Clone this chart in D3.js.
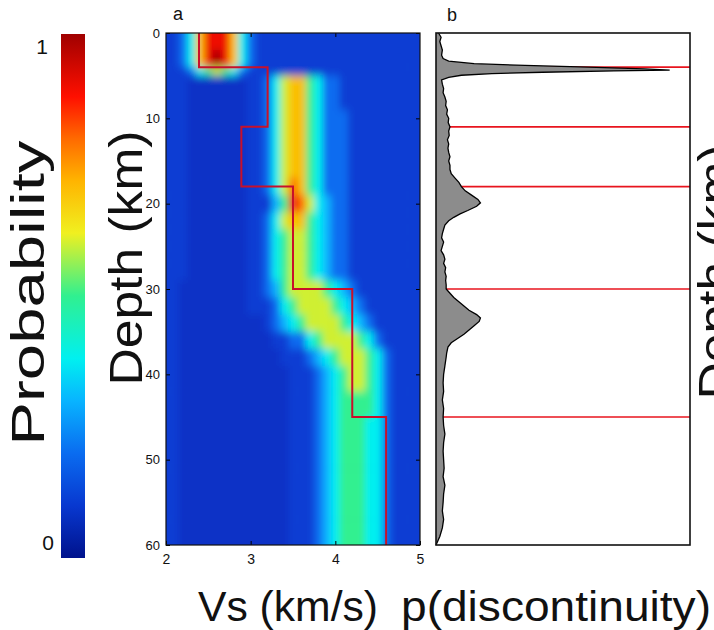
<!DOCTYPE html>
<html lang="en">
<head>
    <meta charset="UTF-8">
    <title>Vs posterior and discontinuity probability</title>
    <script src="https://d3js.org/d3.v7.min.js"></script>
    <style>
        body { margin: 0; background: #fff; }
        text { font-family: "Liberation Sans", Arial, sans-serif; fill: #111; }
    </style>
</head>
<body>
    <div id="chart"></div>
    <script>
        // Vs columns (km/s) of the probability grid
        const vsCols = [2.0, 2.1, 2.2, 2.3, 2.4, 2.5, 2.6, 2.7, 2.8, 2.9, 3.0, 3.1, 3.2, 3.3, 3.4, 3.5,
                        3.6, 3.7, 3.8, 3.9, 4.0, 4.1, 4.2, 4.3, 4.4, 4.5, 4.6, 4.7, 4.8, 4.9, 5.0];
        // depth of the top of each grid row (km); each row ends where the next starts, last at 60
        const rowTop = [0, 2, 4, 5, 7, 9, 11, 13, 15, 17, 19, 21, 23, 25, 27, 29, 31, 33, 35, 37, 39, 42, 45, 48, 51, 54, 57];
        // probability per cell, one char per Vs column: 0..9 and X (see levels)
        const probRows = [
            "1124799974" + "2111111111" + "11111111111",
            "112479X974" + "2111111111" + "11111111111",
            "1112456542" + "1111111111" + "11111111111",
            "1110000000" + "1124677542" + "21111111111",
            "1110000000" + "1124677542" + "21111111111",
            "1110000000" + "1124677542" + "22111111111",
            "1110000000" + "1124677542" + "22111111111",
            "1110000000" + "1124677542" + "22111111111",
            "1110000000" + "1124677542" + "22111111111",
            "1110000000" + "1124687542" + "22111111111",
            "1110000000" + "1113598643" + "22111111111",
            "1110000000" + "1124677543" + "22111111111",
            "1110000000" + "1124566543" + "22111111111",
            "1110000000" + "1124566543" + "22111111111",
            "1110000000" + "1124566543" + "22111111111",
            "1100000000" + "1123566665" + "43211111111",
            "1100000000" + "1112456666" + "54321111111",
            "1100000000" + "0012345666" + "65432111111",
            "1100000000" + "0001122456" + "66654211111",
            "1100000000" + "0000111234" + "56665421111",
            "1100000000" + "0000011123" + "45665421111",
            "1100000000" + "0000011123" + "45555421111",
            "1100000000" + "0000011123" + "45554421111",
            "1100000000" + "0000011123" + "45554421111",
            "1100000000" + "0000011123" + "45554421111",
            "1100000000" + "0000011123" + "45554421111",
            "1100000000" + "0000011123" + "45554421111"
        ];
        const levels = [0.085, 0.11, 0.2, 0.3, 0.38, 0.5, 0.6, 0.7, 0.8, 0.9, 1.0];

        // red layered model
        const layerTop = [0, 4, 11, 18, 30, 45];
        const layerVs = [2.39, 3.2, 2.89, 3.5, 4.2, 4.6];

        // p(discontinuity) profile
        const pDepth = [0, 0.5, 1, 1.5, 2, 2.6, 3, 3.3, 3.6, 3.8, 4, 4.2, 4.35, 4.45, 4.6, 4.75, 4.95, 5.2, 5.5,
                        6, 6.5, 7, 7.5, 8, 8.5, 9, 9.5, 10, 10.5, 11, 11.5, 12, 12.5, 13, 13.5, 14, 14.5, 15,
                        15.5, 16, 16.5, 17, 17.5, 18, 18.5, 19, 19.5, 19.9, 20.3, 20.8, 21.2, 21.6, 22, 22.5,
                        23, 23.5, 24, 24.5, 25, 25.5, 26, 26.5, 27, 27.5, 28, 28.5, 29, 29.5, 30, 30.5, 31,
                        31.5, 32, 32.5, 33, 33.4, 33.8, 34.3, 34.8, 35.3, 35.8, 36.3, 36.8, 37.5, 38, 39, 40,
                        41, 42, 43, 44, 45, 46, 47, 48, 49, 50, 51, 52, 53, 54, 55, 56, 57, 58, 59, 60];
        const pValue = [0.01, 0.02, 0.015, 0.02, 0.025, 0.022, 0.028, 0.05, 0.15, 0.35, 0.6, 0.82, 0.92, 0.7,
                        0.42, 0.22, 0.1, 0.05, 0.022, 0.025, 0.03, 0.028, 0.035, 0.04, 0.038, 0.045, 0.042,
                        0.05, 0.048, 0.055, 0.05, 0.052, 0.045, 0.05, 0.047, 0.05, 0.055, 0.05, 0.055, 0.055,
                        0.06, 0.075, 0.09, 0.1, 0.115, 0.14, 0.165, 0.175, 0.16, 0.125, 0.095, 0.07, 0.05,
                        0.035, 0.03, 0.025, 0.022, 0.03, 0.025, 0.02, 0.03, 0.035, 0.03, 0.038, 0.035, 0.04,
                        0.038, 0.04, 0.04, 0.055, 0.07, 0.09, 0.11, 0.13, 0.16, 0.175, 0.17, 0.15, 0.13, 0.11,
                        0.085, 0.06, 0.047, 0.042, 0.04, 0.035, 0.03, 0.028, 0.03, 0.025, 0.03, 0.028, 0.03,
                        0.035, 0.03, 0.028, 0.03, 0.032, 0.028, 0.035, 0.03, 0.028, 0.025, 0.03, 0.025, 0.015, 0];

        const colorStops = [0, 0.1, 0.2, 0.3, 0.38, 0.5, 0.62, 0.72, 0.8, 0.88, 1];
        const colorRange = ["#00128c", "#0838d0", "#0a6cf0", "#08b4ff", "#00f0f0", "#30f090",
                            "#f0f020", "#ffb400", "#ff6a00", "#ff1000", "#a00000"];

        const w = 714, h = 630;
        const color = d3.scaleLinear().domain(colorStops).range(colorRange);
        const xA = d3.scaleLinear().domain([2, 5]).range([166, 420]);
        const y = d3.scaleLinear().domain([0, 60]).range([33, 545]);
        const xB = d3.scaleLinear().domain([0, 1]).range([436, 690]);

        const svg = d3.select("#chart").append("svg")
            .attr("width", w).attr("height", h);
        svg.append("rect").attr("width", w).attr("height", h).attr("fill", "#fff");

        const defs = svg.append("defs");
        defs.append("clipPath").attr("id", "clipA")
            .append("rect")
            .attr("x", xA(2)).attr("y", y(0))
            .attr("width", xA(5) - xA(2)).attr("height", y(60) - y(0));
        defs.append("filter").attr("id", "soft")
            .attr("x", "-5%").attr("y", "-5%").attr("width", "110%").attr("height", "110%")
            .append("feGaussianBlur").attr("stdDeviation", "3.5 4.5");

        // colour bar
        const grad = defs.append("linearGradient").attr("id", "cbar")
            .attr("x1", 0).attr("y1", 1).attr("x2", 0).attr("y2", 0);
        grad.selectAll("stop").data(colorStops).enter().append("stop")
            .attr("offset", d => d)
            .attr("stop-color", d => color(d));
        const cb = d3.scaleLinear().domain([0, 1]).range([558, 34]);
        svg.append("rect")
            .attr("x", 61).attr("y", cb(1))
            .attr("width", 24).attr("height", cb(0) - cb(1))
            .attr("fill", "url(#cbar)");
        svg.append("text").attr("x", 48).attr("y", cb(1) + 20)
            .attr("text-anchor", "end").attr("font-size", 21).text("1");
        svg.append("text").attr("x", 54).attr("y", cb(0) - 8)
            .attr("text-anchor", "end").attr("font-size", 21).text("0");

        // panel a: heat map
        const cells = [];
        probRows.forEach((row, r) => {
            const top = rowTop[r];
            const bottom = r + 1 < rowTop.length ? rowTop[r + 1] : 60;
            vsCols.forEach((vs, c) => {
                const ch = row[c];
                cells.push({ vs: vs, top: top, bottom: bottom, p: levels[ch === "X" ? 10 : +ch] });
            });
        });
        const yTop = d => d.top === 0 ? y(d.top) - 12 : y(d.top);
        const yBot = d => d.bottom === 60 ? y(d.bottom) + 12 : y(d.bottom);
        const xL = d => d.vs === 2 ? xA(d.vs - 0.05) - 12 : xA(d.vs - 0.05);
        const xR = d => d.vs === 5 ? xA(d.vs + 0.05) + 12 : xA(d.vs + 0.05);
        const heat = svg.append("g").attr("clip-path", "url(#clipA)");
        heat.append("rect")
            .attr("x", xA(2)).attr("y", y(0))
            .attr("width", xA(5) - xA(2)).attr("height", y(60) - y(0))
            .attr("fill", color(0.1));
        heat.append("g").attr("filter", "url(#soft)")
            .selectAll("rect")
            .data(cells)
            .enter()
            .append("rect")
            .attr("x", xL)
            .attr("y", yTop)
            .attr("width", d => xR(d) - xL(d) + 0.5)
            .attr("height", d => yBot(d) - yTop(d) + 0.5)
            .attr("fill", d => color(d.p));

        const steps = [];
        layerTop.forEach((t, i) => {
            const b = i + 1 < layerTop.length ? layerTop[i + 1] : 60;
            steps.push([layerVs[i], t], [layerVs[i], b]);
        });
        heat.append("path")
            .attr("d", d3.line().x(d => xA(d[0])).y(d => y(d[1]))(steps))
            .attr("fill", "none")
            .attr("stroke", "#c8102a")
            .attr("stroke-width", 2);

        const depthTicks = [0, 10, 20, 30, 40, 50, 60];
        svg.append("g")
            .attr("transform", "translate(" + xA(2) + ",0)")
            .call(d3.axisLeft(y).tickValues(depthTicks).tickSize(-4).tickPadding(6))
            .call(g => g.select(".domain").remove())
            .call(g => g.selectAll("text").attr("font-size", 13).style("font-family", "Liberation Sans"));
        svg.append("g")
            .attr("transform", "translate(" + xA(5) + ",0)")
            .call(d3.axisRight(y).tickValues(depthTicks).tickSize(-4).tickFormat(""))
            .call(g => g.select(".domain").remove());
        svg.append("g")
            .attr("transform", "translate(0," + y(60) + ")")
            .call(d3.axisBottom(xA).tickValues([2, 3, 4, 5]).tickSize(-4).tickPadding(9).tickFormat(d3.format("d")))
            .call(g => g.select(".domain").remove())
            .call(g => g.selectAll("text").attr("font-size", 14).style("font-family", "Liberation Sans"));
        svg.append("g")
            .attr("transform", "translate(0," + y(0) + ")")
            .call(d3.axisTop(xA).tickValues([3, 4]).tickSize(-4).tickFormat(""))
            .call(g => g.select(".domain").remove());
        svg.append("rect")
            .attr("x", xA(2)).attr("y", y(0))
            .attr("width", xA(5) - xA(2)).attr("height", y(60) - y(0))
            .attr("fill", "none").attr("stroke", "#111").attr("stroke-width", 1.2);

        // panel b: discontinuity probability
        svg.selectAll(".iface")
            .data(layerTop.slice(1))
            .enter()
            .append("line")
            .attr("class", "iface")
            .attr("x1", xB(0)).attr("x2", xB(1))
            .attr("y1", d => y(d)).attr("y2", d => y(d))
            .attr("stroke", "#e8141e").attr("stroke-width", 1.6);
        const prof = pDepth.map((d, i) => [d, pValue[i]]);
        svg.append("path")
            .attr("d", d3.area().y(d => y(d[0])).x0(xB(0)).x1(d => xB(d[1]))(prof))
            .attr("fill", "#8c8c8c");
        svg.append("path")
            .attr("d", d3.line().y(d => y(d[0])).x(d => xB(d[1]))(prof))
            .attr("fill", "none").attr("stroke", "#000").attr("stroke-width", 1.3);
        svg.append("rect")
            .attr("x", xB(0)).attr("y", y(0))
            .attr("width", xB(1) - xB(0)).attr("height", y(60) - y(0))
            .attr("fill", "none").attr("stroke", "#111").attr("stroke-width", 1.6);

        // labels
        const big = (x, yy, rot, len, str) => svg.append("text")
            .attr("transform", "translate(" + x + "," + yy + ")" + (rot ? " rotate(-90)" : ""))
            .attr("text-anchor", "middle").attr("font-size", rot ? 46 : 42)
            .attr("textLength", len).attr("lengthAdjust", "spacingAndGlyphs")
            .text(str);
        svg.append("text").attr("x", 178).attr("y", 20).attr("text-anchor", "middle")
            .attr("font-size", 18).text("a");
        svg.append("text").attr("x", 452).attr("y", 21).attr("text-anchor", "middle")
            .attr("font-size", 18).text("b");
        big(288, 621, false, 180, "Vs (km/s)");
        big(556, 621, false, 310, "p(discontinuity)");
        big(44, 293, true, 305, "Probability");
        big(142, 258, true, 255, "Depth (km)");
        big(731, 272, true, 255, "Depth (km)");
    </script>
</body>
</html>
